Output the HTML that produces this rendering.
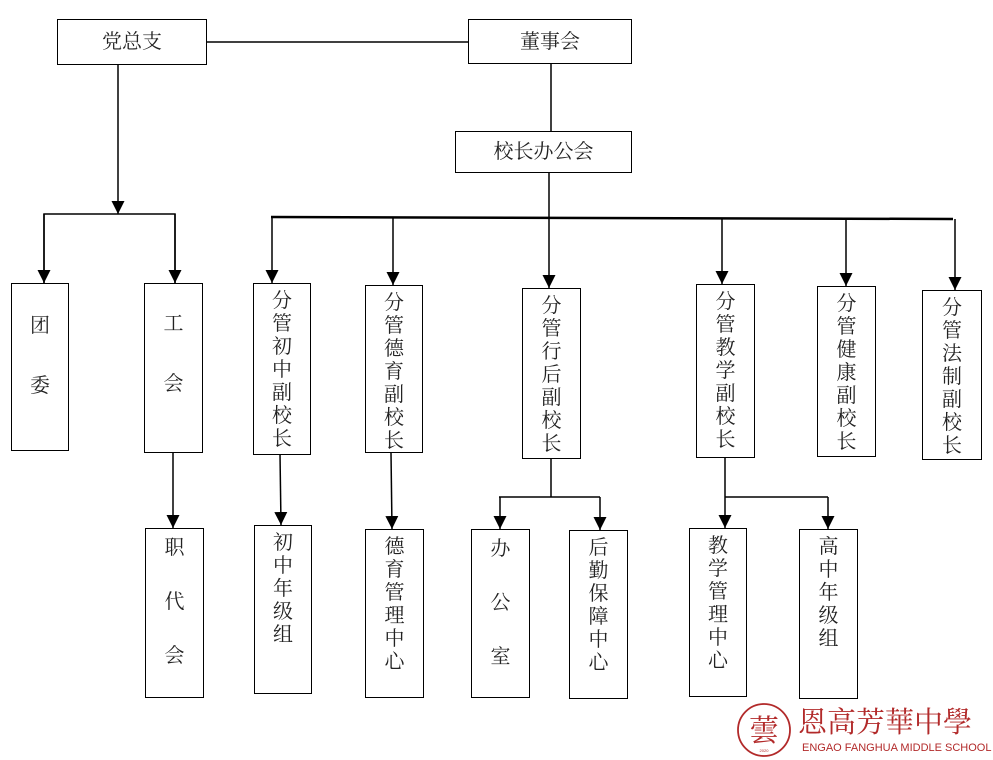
<!DOCTYPE html>
<html><head><meta charset="utf-8">
<style>
html,body{margin:0;padding:0;background:#fff;}
body{width:993px;height:760px;position:relative;overflow:hidden;font-family:"Liberation Serif","Noto Serif CJK SC",serif;color:#222;}
.b{position:absolute;border:1.5px solid #000;box-sizing:border-box;background:#fff;text-align:center;font-size:20px;}
.h{line-height:1;display:flex;align-items:center;justify-content:center;}
.v{line-height:23px;padding-top:6px;}
svg{position:absolute;left:0;top:0;}
</style></head><body>
<svg width="993" height="760" viewBox="0 0 993 760">
<defs><marker id="a" viewBox="0 0 10 10" refX="10" refY="5" markerWidth="13" markerHeight="13" markerUnits="userSpaceOnUse" orient="auto"><path d="M0,0 L10,5 L0,10 z" fill="#000"/></marker></defs>
<g stroke="#000" stroke-width="1.5" fill="none">
<line x1="203" y1="42" x2="468" y2="42"/>
<line x1="118" y1="65" x2="118" y2="214" marker-end="url(#a)"/>
<polyline points="44,283 44,214 175,214 175,283" stroke-width="1.5"/>
<line x1="551" y1="64" x2="551" y2="131"/>
<line x1="549" y1="173" x2="549" y2="218"/>
<line x1="271" y1="217" x2="953" y2="219" stroke-width="2.5"/>
<line x1="44" y1="214" x2="44" y2="283" marker-end="url(#a)"/>
<line x1="175" y1="214" x2="175" y2="283" marker-end="url(#a)"/>
<line x1="272" y1="217" x2="272" y2="283" marker-end="url(#a)"/>
<line x1="393" y1="218" x2="393" y2="285" marker-end="url(#a)"/>
<line x1="549" y1="218" x2="549" y2="288" marker-end="url(#a)"/>
<line x1="722" y1="218" x2="722" y2="284" marker-end="url(#a)"/>
<line x1="846" y1="219" x2="846" y2="286" marker-end="url(#a)"/>
<line x1="955" y1="219" x2="955" y2="290" marker-end="url(#a)"/>
<line x1="173" y1="453" x2="173" y2="528" marker-end="url(#a)"/>
<line x1="280" y1="454" x2="281" y2="525" marker-end="url(#a)"/>
<line x1="391" y1="453" x2="392" y2="529" marker-end="url(#a)"/>
<line x1="551" y1="458" x2="551" y2="497"/>
<polyline points="499,497 600,497"/>
<line x1="500" y1="497" x2="500" y2="529" marker-end="url(#a)"/>
<line x1="600" y1="497" x2="600" y2="530" marker-end="url(#a)"/>
<line x1="725" y1="457" x2="725" y2="528" marker-end="url(#a)"/>
<polyline points="725,497 828,497"/>
<line x1="828" y1="497" x2="828" y2="529" marker-end="url(#a)"/>
</g>
<circle cx="764" cy="730" r="26" fill="none" stroke="#b22a2a" stroke-width="1.8"/>
<text x="764" y="741" text-anchor="middle" font-size="30" fill="#b22a2a" font-family="Noto Serif CJK SC,serif">蕓</text>
<text x="764" y="752" text-anchor="middle" font-size="4" fill="#b22a2a" font-family="Liberation Sans,sans-serif">2020</text>
</svg>
<div class="b h" style="left:57px;top:19px;width:150px;height:46px;">党总支</div>
<div class="b h" style="left:468px;top:19px;width:164px;height:45px;">董事会</div>
<div class="b h" style="left:455px;top:131px;width:177px;height:42px;">校长办公会</div>

<div class="b" style="left:11px;top:283px;width:58px;height:168px;line-height:60px;padding-top:12px;">团<br>委</div>
<div class="b" style="left:144px;top:283px;width:59px;height:170px;line-height:60px;padding-top:10px;">工<br>会</div>
<div class="b v" style="left:253px;top:283px;width:58px;height:172px;">分<br>管<br>初<br>中<br>副<br>校<br>长</div>
<div class="b v" style="left:365px;top:285px;width:58px;height:168px;">分<br>管<br>德<br>育<br>副<br>校<br>长</div>
<div class="b v" style="left:522px;top:288px;width:59px;height:171px;">分<br>管<br>行<br>后<br>副<br>校<br>长</div>
<div class="b v" style="left:696px;top:284px;width:59px;height:174px;">分<br>管<br>教<br>学<br>副<br>校<br>长</div>
<div class="b v" style="left:817px;top:286px;width:59px;height:171px;">分<br>管<br>健<br>康<br>副<br>校<br>长</div>
<div class="b v" style="left:922px;top:290px;width:60px;height:170px;">分<br>管<br>法<br>制<br>副<br>校<br>长</div>

<div class="b" style="left:145px;top:528px;width:59px;height:170px;line-height:54px;padding-top:0px;margin-top:0;"><div style="margin-top:-8px">职<br>代<br>会</div></div>
<div class="b v" style="left:254px;top:525px;width:58px;height:169px;">初<br>中<br>年<br>级<br>组</div>
<div class="b v" style="left:365px;top:529px;width:59px;height:169px;">德<br>育<br>管<br>理<br>中<br>心</div>
<div class="b" style="left:471px;top:529px;width:59px;height:169px;line-height:54px;padding-top:0px;"><div style="margin-top:-8px">办<br>公<br>室</div></div>
<div class="b v" style="left:569px;top:530px;width:59px;height:169px;">后<br>勤<br>保<br>障<br>中<br>心</div>
<div class="b v" style="left:689px;top:528px;width:58px;height:169px;">教<br>学<br>管<br>理<br>中<br>心</div>
<div class="b v" style="left:799px;top:529px;width:59px;height:170px;">高<br>中<br>年<br>级<br>组</div>

<div style="position:absolute;left:798px;top:704px;width:195px;font-size:29px;line-height:34px;color:#b22a2a;letter-spacing:0px;font-family:'Noto Serif CJK TC','Noto Serif CJK SC',serif;white-space:nowrap;">恩高芳華中學</div>
<div style="position:absolute;left:802px;top:742px;width:190px;font-size:11px;line-height:12px;color:#b22a2a;font-family:'Liberation Sans',sans-serif;white-space:nowrap;">ENGAO FANGHUA MIDDLE SCHOOL</div>
</body></html>
